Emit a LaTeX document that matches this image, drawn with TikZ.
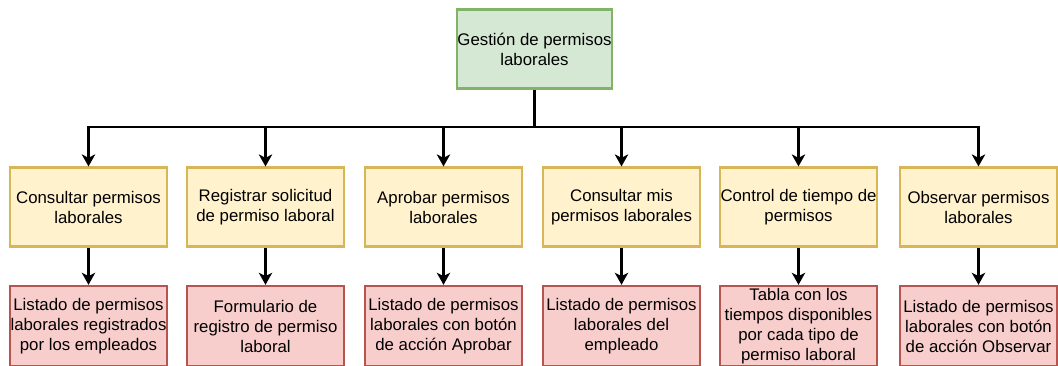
\documentclass[tikz,border=0pt]{standalone}
\usepackage{fontspec}
\setmainfont{Liberation Sans}
\usetikzlibrary{arrows.meta,positioning}

\definecolor{rootfill}{HTML}{D5E8D4}
\definecolor{rootdraw}{HTML}{82B366}
\definecolor{taskfill}{HTML}{FFF2CC}
\definecolor{taskdraw}{HTML}{D6B656}
\definecolor{viewfill}{HTML}{F8CECC}
\definecolor{viewdraw}{HTML}{B85450}

\tikzset{
  box/.style={line width=1.8pt, align=center, inner sep=0pt,
    minimum width=118pt, minimum height=59pt,
    font=\fontsize{12.6}{15}\selectfont},
  rootbox/.style={box, draw=rootdraw, fill=rootfill},
  taskbox/.style={box, draw=taskdraw, fill=taskfill},
  viewbox/.style={box, draw=viewdraw, fill=viewfill},
  link/.style={line width=2pt, -{Stealth[length=9pt,width=10pt,inset=2.5pt]}},
  bus/.style={line width=2pt}
}

\begin{document}
\begin{tikzpicture}[x=0.75pt,y=-0.75pt]
\useasboundingbox (0,0) rectangle (1058,365);
%draw root
\node[rootbox, minimum width=116pt] (root) at (534.5,49) {Gesti\'on de permisos\\laborales};
\coordinate (hub) at (534.5,127);
%draw modules and their views
\foreach \i/\x/\task/\view in {
  1/88.5/{Consultar permisos\\laborales}/{Listado de permisos\\laborales registrados\\por los empleados},
  2/265.5/{Registrar solicitud\\de permiso laboral}/{Formulario de\\registro de permiso\\laboral},
  3/443.5/{Aprobar permisos\\laborales}/{Listado de permisos\\laborales con bot\'on\\de acci\'on Aprobar},
  4/621.5/{Consultar mis\\permisos laborales}/{Listado de permisos\\laborales del\\empleado},
  5/798.5/{Control de tiempo de\\permisos}/{Tabla con los\\tiempos disponibles\\por cada tipo de\\permiso laboral},
  6/978.5/{Observar permisos\\laborales}/{Listado de permisos\\laborales con bot\'on\\de acci\'on Observar}}{
  \node[taskbox] (task\i) at (\x,207) {\task};
  \node[viewbox, minimum height=60pt] (view\i) at (\x,326) {\view};
}
%draw connectors
\draw[bus] (root.south) -- (hub);
\foreach \i in {1,...,6}{
  \draw[link] (hub) -| (task\i.north);
  \draw[link] (task\i.south) -- (view\i.north);
}
\end{tikzpicture}
\end{document}
